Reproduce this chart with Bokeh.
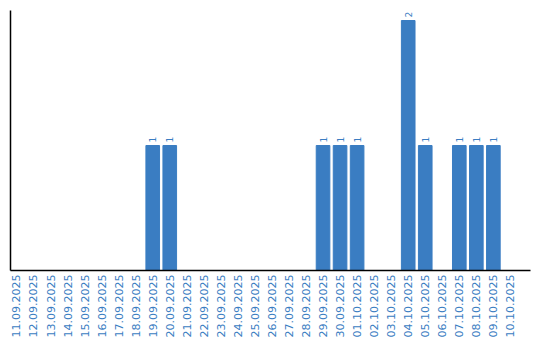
import math
from bokeh.plotting import figure
from bokeh.models import ColumnDataSource, Range1d, FixedTicker
from bokeh.core.properties import value
from bokeh.embed import file_html
from bokeh.resources import INLINE

dates = ["11.09.2025", "12.09.2025", "13.09.2025", "14.09.2025", "15.09.2025",
         "16.09.2025", "17.09.2025", "18.09.2025", "19.09.2025", "20.09.2025",
         "21.09.2025", "22.09.2025", "23.09.2025", "24.09.2025", "25.09.2025",
         "26.09.2025", "27.09.2025", "28.09.2025", "29.09.2025", "30.09.2025",
         "01.10.2025", "02.10.2025", "03.10.2025", "04.10.2025", "05.10.2025",
         "06.10.2025", "07.10.2025", "08.10.2025", "09.10.2025", "10.10.2025"]
counts = [0, 0, 0, 0, 0, 0, 0, 0, 1, 1,
          0, 0, 0, 0, 0, 0, 0, 0, 1, 1,
          1, 0, 0, 2, 1, 0, 1, 1, 1, 0]

BLUE = "#3a7dc2"
idx = list(range(len(dates)))
src = ColumnDataSource(dict(x=idx, top=counts))
nz = [i for i, c in enumerate(counts) if c > 0]
lab = ColumnDataSource(dict(x=nz, y=[counts[i] for i in nz], t=[str(counts[i]) for i in nz]))

p = figure(width=540, height=340, output_backend="svg", toolbar_location=None,
           x_range=Range1d(-0.35, 30.18), y_range=Range1d(0, 2.08),
           min_border_left=10, min_border_right=10, min_border_top=10, min_border_bottom=0)
p.vbar(x="x", top="top", width=0.8, source=src, color=BLUE)
p.text(x="x", y="y", text="t", source=lab, angle=math.pi / 2, text_align="left",
       text_baseline="middle", text_color=BLUE, text_font=value("DejaVu Sans"),
       text_font_size="9px", x_offset=0, y_offset=-3)

p.xgrid.visible = False
p.ygrid.visible = False
p.outline_line_color = None

xa = p.xaxis[0]
xa.ticker = FixedTicker(ticks=idx)
xa.major_label_overrides = {i: d for i, d in enumerate(dates)}
xa.major_label_orientation = math.pi / 2
xa.major_label_text_font = "DejaVu Sans"
xa.major_label_text_font_size = "11px"
xa.major_label_text_color = BLUE
xa.major_tick_line_color = None
xa.minor_tick_line_color = None
xa.major_tick_out = 0
xa.major_tick_in = 0
xa.axis_line_color = "black"
xa.axis_line_width = 1.5
xa.major_label_standoff = 4

ya = p.yaxis[0]
ya.ticker = FixedTicker(ticks=[])
ya.major_tick_line_color = None
ya.minor_tick_line_color = None
ya.major_tick_out = 0
ya.major_tick_in = 0
ya.major_label_standoff = 0
ya.axis_line_color = "black"
ya.axis_line_width = 1.5

open("out.html", "w").write(file_html(p, INLINE))
